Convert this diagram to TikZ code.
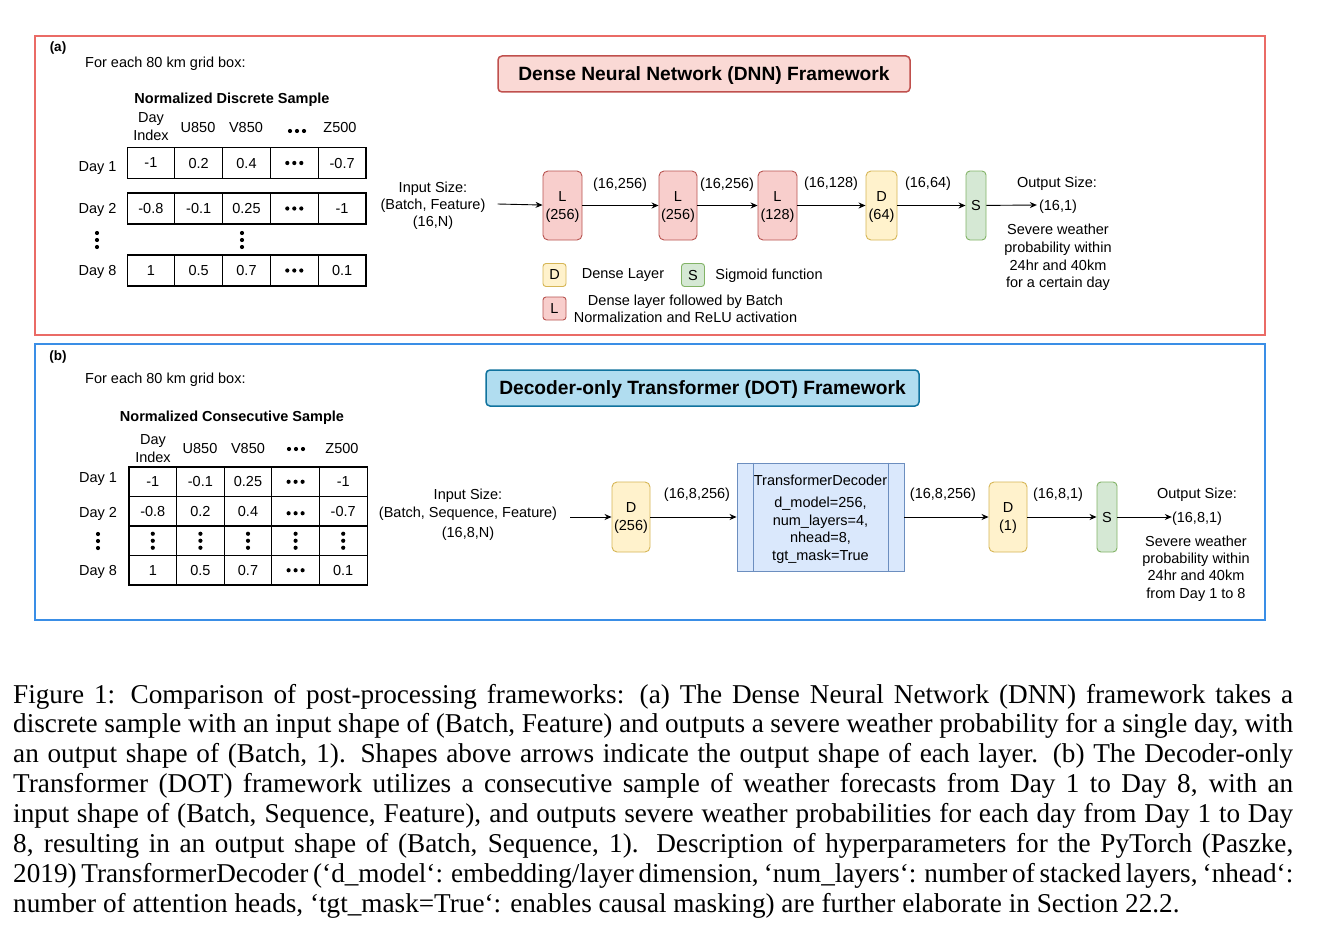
\documentclass[tikz,border=0pt]{standalone}
\usepackage{fontspec}
\setmainfont{Liberation Serif}
\newfontfamily\arial{Liberation Sans}
\usetikzlibrary{arrows.meta,calc}
\definecolor{frameRed}{HTML}{EA6B66}
\definecolor{frameBlue}{HTML}{3A8EE6}
\definecolor{lFill}{HTML}{F8CECC}
\definecolor{lDraw}{HTML}{B85450}
\definecolor{dFill}{HTML}{FFF2CC}
\definecolor{dDraw}{HTML}{D6B656}
\definecolor{sFill}{HTML}{D5E8D4}
\definecolor{sDraw}{HTML}{82B366}
\definecolor{dnnFill}{HTML}{FAD9D5}
\definecolor{dnnDraw}{HTML}{C0504D}
\definecolor{dotFill}{HTML}{B1DDF0}
\definecolor{dotDraw}{HTML}{10739E}
\definecolor{trFill}{HTML}{DAE8FC}
\definecolor{trDraw}{HTML}{6C8EBF}
\begin{document}
\begin{tikzpicture}[x=1pt,y=-1pt,
  every node/.style={font=\arial\fontsize{14.5}{17.5}\selectfont, inner sep=0pt, align=center, text depth=0pt},
  cell/.style={draw, line width=1.1pt, minimum height=#1, minimum width=47.7pt},
  lbox/.style={draw=lDraw, fill=lFill, rounded corners=5pt, line width=0.9pt, minimum height=69pt},
  dbox/.style={draw=dDraw, fill=dFill, rounded corners=5pt, line width=0.9pt, minimum height=69pt},
  sbox/.style={draw=sDraw, fill=sFill, rounded corners=4pt, line width=0.9pt, minimum height=69pt, minimum width=20pt},
  legbox/.style={rounded corners=3pt, line width=0.9pt, minimum width=23pt, minimum height=23pt},
  arr/.style={-{Stealth[length=7pt,width=6pt]}, line width=0.9pt},
  bold/.style={font=\arial\bfseries\fontsize{14.5}{17.5}\selectfont},
  title/.style={rounded corners=4pt, line width=1.5pt, minimum height=36pt, font=\arial\bfseries\fontsize{19.2}{22}\selectfont},
  capline/.style={anchor=base west, font=\rmfamily\fontsize{27.2}{30}\selectfont},
  hdots/.pic={\foreach \d in {-7,0,7} \fill (\d,0) circle[radius=2.1pt];},
  vdots/.pic={\foreach \d in {-7,0,7} \fill (0,\d) circle[radius=2.1pt];}
]
\path[use as bounding box, fill=white] (0,0) rectangle (1317,939);

% ---------------- frames ----------------
\draw[frameRed, line width=1.2pt] (35,36) rectangle (1265,335);
\draw[frameBlue, line width=1.2pt] (35,344) rectangle (1265,620);

% ---------------- (a) ----------------
\node[bold, font=\arial\bfseries\fontsize{13.5}{15}\selectfont] (labA) at (58,47) {(a)};
\node[anchor=west] (gridA) at (85,62) {For each 80 km grid box:};
\node[bold] (sampA) at (232,98) {Normalized Discrete Sample};
\node[font=\arial\fontsize{14.5}{18}\selectfont] (hA0) at (151,127) {Day\\Index};
\node (hA1) at (198,127) {U850};
\node (hA2) at (246,127) {V850};
\pic at (297,131) {hdots};
\node (hA4) at (340,127) {Z500};

\node (dA1) at (97.5,167) {Day 1};
\node (dA2) at (97.5,208) {Day 2};
\node (dA8) at (97.5,270) {Day 8};
\pic at (97,240) {vdots};
\pic at (242,240) {vdots};

\foreach \v [count=\i] in {-1,0.2,0.4,{},-0.7}
  \node[cell=31pt] (aR1C\i) at ({150.9+47.8*(\i-1)},163) {\v};
\foreach \v [count=\i] in {-0.8,-0.1,0.25,{},-1}
  \node[cell=31pt] (aR2C\i) at ({150.9+47.8*(\i-1)},208.5) {\v};
\foreach \v [count=\i] in {1,0.5,0.7,{},0.1}
  \node[cell=31pt] (aR8C\i) at ({150.9+47.8*(\i-1)},270.5) {\v};
\pic at (aR1C4) {hdots};
\pic at (aR2C4) {hdots};
\pic at (aR8C4) {hdots};

\node[title, draw=dnnDraw, fill=dnnFill, minimum width=412pt] (dnn) at (704,74) {Dense Neural Network (DNN) Framework};

\node[font=\arial\fontsize{14.5}{17}\selectfont] (inA) at (433,204) {Input Size:\\(Batch, Feature)\\(16,N)};
\node[lbox, minimum width=39pt, font=\arial\fontsize{14.5}{18}\selectfont] (L1) at (562.5,205.5) {L\\(256)};
\node[lbox, minimum width=38pt, font=\arial\fontsize{14.5}{18}\selectfont] (L2) at (678,205.5) {L\\(256)};
\node[lbox, minimum width=39pt, font=\arial\fontsize{14.5}{18}\selectfont] (L3) at (777.5,205.5) {L\\(128)};
\node[dbox, minimum width=31pt, font=\arial\fontsize{14.5}{18}\selectfont] (D1) at (881.5,205.5) {D\\(64)};
\node[sbox] (S1) at (976,205.5) {S};
\node[inner sep=2pt] (outA) at (1058,205) {(16,1)};
\node (osA) at (1057,182) {Output Size:};
\node[font=\arial\fontsize{14.5}{17.7}\selectfont] (sevA) at (1058,256) {Severe weather\\probability within\\24hr and 40km\\for a certain day};

\draw[arr] ([xshift=12pt]inA.east) -- (L1);
\draw[arr] (L1) -- (L2);
\draw[arr] (L2) -- (L3);
\draw[arr] (L3) -- (D1);
\draw[arr] (D1) -- (S1);
\draw[arr] (S1) -- (outA.west);
\node (eA1) at (620,183) {(16,256)};
\node (eA2) at (727,183) {(16,256)};
\node (eA3) at (831,182) {(16,128)};
\node (eA4) at (928,182) {(16,64)};

% legend
\node[legbox, draw=dDraw, fill=dFill] (legD) at (554.5,275) {D};
\node (legDt) at (623,274) {Dense Layer};
\node[legbox, draw=sDraw, fill=sFill] (legS) at (693,275) {S};
\node (legSt) at (769,274) {Sigmoid function};
\node[legbox, draw=lDraw, fill=lFill] (legL) at (554.5,308.5) {L};
\node[font=\arial\fontsize{14.5}{17}\selectfont] (legLt) at (685.5,309) {Dense layer followed by Batch\\Normalization and ReLU activation};

% ---------------- (b) ----------------
\node[bold, font=\arial\bfseries\fontsize{13.5}{15}\selectfont] (labB) at (58,356) {(b)};
\node[anchor=west] (gridB) at (85,378) {For each 80 km grid box:};
\node[bold] (sampB) at (232,416) {Normalized Consecutive Sample};
\node[font=\arial\fontsize{14.5}{18}\selectfont] (hB0) at (153,449) {Day\\Index};
\node (hB1) at (200,448) {U850};
\node (hB2) at (248,448) {V850};
\pic at (296,449) {hdots};
\node (hB4) at (342,448) {Z500};

\node (dB1) at (98,478) {Day 1};
\node (dB2) at (98,512) {Day 2};
\pic at (98,541) {vdots};
\node (dB8) at (98,570) {Day 8};

\foreach \v [count=\i] in {-1,-0.1,0.25,{},-1}
  \node[cell=29.5pt] (bR1C\i) at ({152.8+47.6*(\i-1)},481.75) {\v};
\foreach \v [count=\i] in {-0.8,0.2,0.4,{},-0.7}
  \node[cell=29.5pt] (bR2C\i) at ({152.8+47.6*(\i-1)},511.25) {\v};
\foreach \i in {1,...,5}
  \node[cell=29.5pt] (bR3C\i) at ({152.8+47.6*(\i-1)},540.75) {};
\foreach \v [count=\i] in {1,0.5,0.7,{},0.1}
  \node[cell=29.5pt] (bR8C\i) at ({152.8+47.6*(\i-1)},570.25) {\v};
\pic at (bR1C4) {hdots};
\pic at ([yshift=-2pt]bR2C4.center) {hdots};
\pic at (bR8C4) {hdots};
\foreach \i in {1,...,5} \pic at (bR3C\i) {vdots};

\node[title, draw=dotDraw, fill=dotFill, minimum width=433pt] (dot) at (702.5,388) {Decoder-only Transformer (DOT) Framework};

\node[font=\arial\fontsize{14.5}{18}\selectfont] (inB) at (468,513) {Input Size:\\(Batch, Sequence, Feature)\\[2pt](16,8,N)};
\node[dbox, minimum width=38pt, minimum height=70pt, font=\arial\fontsize{14.5}{18}\selectfont] (D2) at (631,517) {D\\(256)};
\node[draw=trDraw, fill=trFill, line width=0.9pt, minimum width=167pt, minimum height=108pt] (tr) at (820.5,517) {};
\draw[trDraw, line width=0.9pt] ([xshift=16.5pt]tr.north west) -- ([xshift=16.5pt]tr.south west);
\draw[trDraw, line width=0.9pt] ([xshift=-16.5pt]tr.north east) -- ([xshift=-16.5pt]tr.south east);
\node[font=\arial\fontsize{14.5}{17.5}\selectfont] (trText) at (820.5,517.5) {TransformerDecoder\\[4.5pt]d\_model=256,\\num\_layers=4,\\nhead=8,\\tgt\_mask=True};
\node[dbox, minimum width=38pt, minimum height=70pt, font=\arial\fontsize{14.5}{18}\selectfont] (D3) at (1008,517) {D\\(1)};
\node[sbox, minimum height=70pt] (S2) at (1107,517) {S};
\node (outB) at (1197,517) {(16,8,1)};
\node (osB) at (1197,493) {Output Size:};
\node[font=\arial\fontsize{14.5}{17.3}\selectfont] (sevB) at (1196,567) {Severe weather\\probability within\\24hr and 40km\\from Day 1 to 8};

\draw[arr] ([xshift=13pt]inB.east |- D2.west) -- (D2);
\draw[arr] (D2) -- (tr);
\draw[arr] (tr) -- (D3);
\draw[arr] (D3) -- (S2);
\draw[arr] (S2) -- (outB.west);
\node (eB1) at (697,493) {(16,8,256)};
\node (eB2) at (943,493) {(16,8,256)};
\node (eB3) at (1058,493) {(16,8,1)};

% ---------------- caption ----------------
\node[capline] (c1) at (13,703) {\makebox[1280pt][s]{Figure 1: Comparison of post-processing frameworks: (a) The Dense Neural Network (DNN) framework takes a}};
\node[capline] (c2) at (13,732.9) {\makebox[1280pt][s]{discrete sample with an input shape of (Batch, Feature) and outputs a severe weather probability for a single day, with}};
\node[capline] (c3) at (13,762.7) {\makebox[1280pt][s]{an output shape of (Batch, 1). Shapes above arrows indicate the output shape of each layer. (b) The Decoder-only}};
\node[capline] (c4) at (13,792.6) {\makebox[1280pt][s]{Transformer (DOT) framework utilizes a consecutive sample of weather forecasts from Day 1 to Day 8, with an}};
\node[capline] (c5) at (13,822.4) {\makebox[1280pt][s]{input shape of (Batch, Sequence, Feature), and outputs severe weather probabilities for each day from Day 1 to Day}};
\node[capline] (c6) at (13,852.3) {\makebox[1280pt][s]{8, resulting in an output shape of (Batch, Sequence, 1). Description of hyperparameters for the PyTorch (Paszke,}};
\node[capline] (c7) at (13,882.2) {\makebox[1280pt][s]{2019) TransformerDecoder (‘d\_model‘: embedding/layer dimension, ‘num\_layers‘: number of stacked layers, ‘nhead‘:}};
\node[capline] (c8) at (13,912) {number of attention heads, ‘tgt\_mask=True‘: enables causal masking) are further elaborate in Section 22.2.};
\end{tikzpicture}
\end{document}
